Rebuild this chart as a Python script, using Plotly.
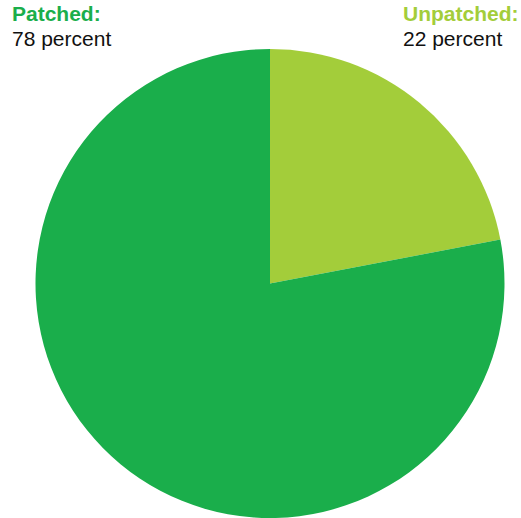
import plotly.graph_objects as go

# Share of systems by patch status
labels = ["Unpatched", "Patched"]
values = [22, 78]
colors = ["#a3cd3a", "#1aae4b"]

W, H = 521, 518

fig = go.Figure(
    go.Pie(
        labels=labels,
        values=values,
        sort=False,
        direction="clockwise",
        rotation=0,
        marker=dict(colors=colors, line=dict(width=0)),
        textinfo="none",
        hoverinfo="label+percent",
        showlegend=False,
        domain=dict(x=[35 / W, 505 / W], y=[0, 1 - 49 / H]),
    )
)

FAMILY = "Liberation Sans, Arial, Helvetica, sans-serif"
SIZE = 21


def add_label(name, value, color, x_px):
    # category name in bold colour, value line in black beneath it
    fig.add_annotation(
        text=f"<b>{name}:</b>",
        xref="paper", yref="paper", x=x_px / W, y=1 - 0 / H,
        xanchor="left", yanchor="top", align="left", showarrow=False,
        font=dict(family=FAMILY, size=SIZE, color=color),
    )
    fig.add_annotation(
        text=f"{value} percent",
        xref="paper", yref="paper", x=x_px / W, y=1 - 25 / H,
        xanchor="left", yanchor="top", align="left", showarrow=False,
        font=dict(family=FAMILY, size=SIZE, color="#111111"),
    )


add_label(labels[1], values[1], colors[1], 10)
add_label(labels[0], values[0], colors[0], 401)

fig.update_layout(
    width=W, height=H,
    margin=dict(l=0, r=0, t=0, b=0),
    paper_bgcolor="white", plot_bgcolor="white",
)

fig.write_html("out.html")
